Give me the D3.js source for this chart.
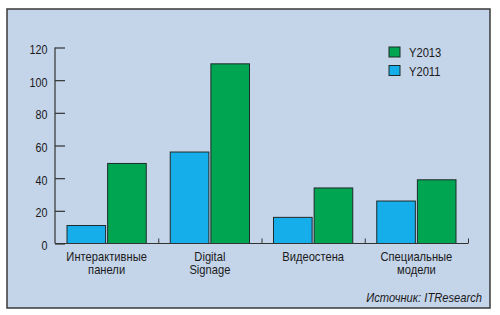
<html>
<head>
<meta charset="utf-8">
<title>Interactive displays</title>
<script src="https://d3js.org/d3.v7.min.js"></script>
<style>
body { margin: 0; background: #fff; }
text { font-family: "Liberation Sans Narrow", "Arial Narrow", "Liberation Sans", sans-serif; fill: #1a1a1a; }
</style>
</head>
<body>
<script>
// data
var categories = [["Интерактивные", "панели"], ["Digital", "Signage"], ["Видеостена"], ["Специальные", "модели"]];
var y2011 = [11, 56, 16, 26];
var y2013 = [49, 110, 34, 39];
var seriesNames = ["Y2011", "Y2013"];
var yTicks = [0, 20, 40, 60, 80, 100, 120];

var W = 500, H = 315;
var svg = d3.select("body").append("svg").attr("width", W).attr("height", H);

// narrow text: place at (px,py) and squeeze horizontally
var squeeze = 0.86;
function place(px, py) { return "translate(" + px + "," + py + ") scale(" + squeeze + ",1)"; }

// panel
svg.append("rect").attr("x", 7).attr("y", 9).attr("width", 483).attr("height", 299)
   .attr("fill", "#c4d4e9").attr("stroke", "#3a3a3a").attr("stroke-width", 1.5);

var pLeft = 55, pRight = 468, pTop = 47.5, pBottom = 243.5;

var x = d3.scaleBand().domain(d3.range(categories.length)).range([pLeft, pRight]);
var xs = d3.scaleBand().domain(seriesNames).range([12, x.bandwidth() - 12]).paddingInner(0.05);
var y = d3.scaleLinear().domain([0, 120]).range([pBottom, pTop]);

var colors = { "Y2011": "#16aeea", "Y2013": "#00a551" };

var rows = categories.map(function(c, i) { return { i: i, Y2011: y2011[i], Y2013: y2013[i] }; });

var g = svg.selectAll(".grp").data(rows).enter().append("g")
    .attr("transform", function(d) { return "translate(" + x(d.i) + ",0)"; });

g.selectAll("rect").data(function(d) { return seriesNames.map(function(s) { return { s: s, v: d[s] }; }); })
  .enter().append("rect")
    .attr("x", function(d) { return xs(d.s); })
    .attr("width", xs.bandwidth())
    .attr("y", function(d) { return y(d.v); })
    .attr("height", function(d) { return pBottom - y(d.v); })
    .attr("fill", function(d) { return colors[d.s]; })
    .attr("stroke", "#1e2a2a").attr("stroke-width", 1);

// y axis
var yAxis = svg.append("g").attr("transform", "translate(" + pLeft + ",0)")
    .call(d3.axisRight(y).tickValues(yTicks).tickSize(10).tickFormat(""));
yAxis.select(".domain").attr("stroke", "#333").attr("stroke-width", 1.2).attr("d", "M0," + pTop + "V" + pBottom);
yAxis.selectAll(".tick line").attr("stroke", "#333").attr("stroke-width", 1.2);
svg.selectAll(".ylab").data(yTicks).enter().append("text")
    .attr("transform", function(d) { return place(pLeft - 7.5, y(d) + 6.5); })
    .attr("text-anchor", "end").attr("font-size", 12.5).text(function(d) { return d; });

// x axis
var xAxis = svg.append("g").attr("transform", "translate(0," + pBottom + ")")
    .call(d3.axisTop(d3.scaleLinear().domain([0, 4]).range([pLeft, pRight])).tickValues([1, 2, 3, 4]).tickSize(5).tickFormat(""));
xAxis.select(".domain").attr("stroke", "#333").attr("stroke-width", 1.2).attr("d", "M" + pLeft + ",0H" + pRight);
xAxis.selectAll(".tick line").attr("stroke", "#333").attr("stroke-width", 1);

svg.selectAll(".xlab").data(categories).enter().append("text")
    .attr("text-anchor", "middle").attr("font-size", 13)
    .attr("transform", function(d, i) { return place(x(i) + x.bandwidth() / 2, 0); })
    .each(function(d) {
      var t = d3.select(this);
      d.forEach(function(line, k) {
        t.append("tspan").attr("x", 0).attr("y", 261.5 + k * 12.5).text(line);
      });
    });

// legend
var legendOrder = ["Y2013", "Y2011"];
var lg = svg.selectAll(".lg").data(legendOrder).enter().append("g")
    .attr("transform", function(d, i) { return "translate(389," + (47 + i * 18.5) + ")"; });
lg.append("rect").attr("width", 11).attr("height", 10)
    .attr("fill", function(d) { return colors[d]; }).attr("stroke", "#1e2a2a").attr("stroke-width", 1);
lg.append("text").attr("transform", place(20, 10)).attr("font-size", 13).text(function(d) { return d; });

// source
svg.append("text").attr("transform", place(482, 302)).attr("text-anchor", "end")
    .attr("font-size", 13).attr("font-style", "italic").text("Источник: ITResearch");
</script>
</body>
</html>
